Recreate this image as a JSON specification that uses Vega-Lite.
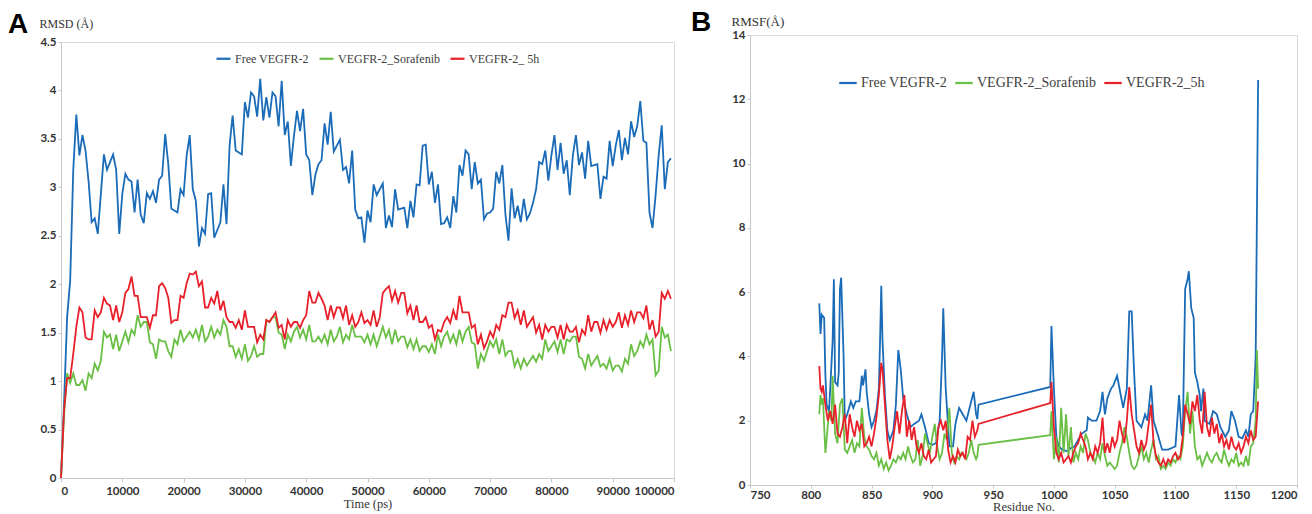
{
"$schema":"https://vega.github.io/schema/vega-lite/v6.json",
"padding":{"left":7,"top":8,"right":5,"bottom":0},
"background":"white",
"config":{
 "view":{"stroke":"#d9d9d9"},
 "axis":{"labelFont":"Lato","labelFontWeight":"bold","labelFontSize":11.5,"labelColor":"#333333","domainColor":"#c8c8c8","tickColor":"#c8c8c8","tickSize":4,"grid":false,"titleFont":"Liberation Serif, Times New Roman, serif","titleFontWeight":"normal","titleColor":"#333333","labelPadding":3,"titlePadding":1},
 "legend":{"symbolType":"stroke","symbolStrokeWidth":2.2,"labelFont":"Liberation Serif, Times New Roman, serif","labelColor":"#404040","direction":"horizontal","orient":"none"},
 "title":{"font":"Liberation Sans","fontWeight":"bold","fontSize":28,"color":"#000000","anchor":"start","frame":"group"}
},
"datasets":{
"A":[
{"t":0,"F":0,"S":0,"H":0},{"t":500,"F":0.78,"S":0.65,"H":0.7},{"t":1000,"F":1.66,"S":1.08,"H":1.03},{"t":1500,"F":2.04,"S":0.98,"H":1.03},{"t":2000,"F":3.18,"S":1.08,"H":1.28},{"t":2500,"F":3.75,"S":0.96,"H":1.56},{"t":3000,"F":3.33,"S":0.96,"H":1.76},{"t":3500,"F":3.54,"S":1.01,"H":1.71},{"t":4000,"F":3.38,"S":0.9,"H":1.45},{"t":4500,"F":3.06,"S":1.08,"H":1.43},
{"t":5000,"F":2.64,"S":1.03,"H":1.43},{"t":5500,"F":2.68,"S":1.18,"H":1.73},{"t":6000,"F":2.52,"S":1.11,"H":1.66},{"t":6500,"F":2.93,"S":1.21,"H":1.71},{"t":7000,"F":3.34,"S":1.51,"H":1.86},{"t":7500,"F":3.18,"S":1.45,"H":1.8},{"t":8000,"F":3.26,"S":1.48,"H":1.78},{"t":8500,"F":3.34,"S":1.33,"H":1.63},{"t":9000,"F":3.18,"S":1.48,"H":1.78},{"t":9500,"F":2.52,"S":1.31,"H":1.61},
{"t":10000,"F":2.93,"S":1.41,"H":1.71},{"t":10500,"F":3.14,"S":1.51,"H":1.91},{"t":11000,"F":3.08,"S":1.4,"H":1.95},{"t":11500,"F":3.06,"S":1.53,"H":2.08},{"t":12000,"F":2.74,"S":1.48,"H":1.88},{"t":12500,"F":3.08,"S":1.68,"H":1.88},{"t":13000,"F":2.72,"S":1.56,"H":1.66},{"t":13500,"F":2.63,"S":1.61,"H":1.66},{"t":14000,"F":2.94,"S":1.61,"H":1.66},{"t":14500,"F":2.88,"S":1.4,"H":1.55},
{"t":15000,"F":2.96,"S":1.38,"H":1.68},{"t":15500,"F":2.84,"S":1.23,"H":1.68},{"t":16000,"F":3.08,"S":1.43,"H":1.98},{"t":16500,"F":3.12,"S":1.41,"H":2.01},{"t":17000,"F":3.55,"S":1.41,"H":1.96},{"t":17500,"F":3.24,"S":1.31,"H":1.86},{"t":18000,"F":2.78,"S":1.25,"H":1.6},{"t":18500,"F":2.76,"S":1.43,"H":1.63},{"t":19000,"F":2.74,"S":1.38,"H":1.63},{"t":19500,"F":2.98,"S":1.53,"H":1.88},
{"t":20000,"F":2.92,"S":1.41,"H":1.86},{"t":20500,"F":3.33,"S":1.46,"H":2.01},{"t":21000,"F":3.54,"S":1.51,"H":2.11},{"t":21500,"F":2.98,"S":1.45,"H":2.1},{"t":22000,"F":2.86,"S":1.53,"H":2.13},{"t":22500,"F":2.39,"S":1.43,"H":1.98},{"t":23000,"F":2.58,"S":1.58,"H":2.03},{"t":23500,"F":2.52,"S":1.41,"H":1.76},{"t":24000,"F":2.93,"S":1.46,"H":1.76},{"t":24500,"F":2.94,"S":1.56,"H":1.86},
{"t":25000,"F":2.48,"S":1.45,"H":1.8},{"t":25500,"F":2.56,"S":1.53,"H":1.93},{"t":26000,"F":2.64,"S":1.48,"H":1.73},{"t":26500,"F":3.03,"S":1.63,"H":1.83},{"t":27000,"F":2.62,"S":1.56,"H":1.66},{"t":27500,"F":3.43,"S":1.36,"H":1.61},{"t":28000,"F":3.74,"S":1.36,"H":1.61},{"t":28500,"F":3.38,"S":1.25,"H":1.55},{"t":29000,"F":3.36,"S":1.33,"H":1.63},{"t":29500,"F":3.34,"S":1.23,"H":1.53},
{"t":30000,"F":3.88,"S":1.38,"H":1.73},{"t":30500,"F":3.72,"S":1.21,"H":1.56},{"t":31000,"F":3.98,"S":1.26,"H":1.56},{"t":31500,"F":3.94,"S":1.36,"H":1.56},{"t":32000,"F":3.73,"S":1.25,"H":1.4},{"t":32500,"F":4.12,"S":1.28,"H":1.48},{"t":33000,"F":3.69,"S":1.28,"H":1.43},{"t":33500,"F":3.93,"S":1.63,"H":1.63},{"t":34000,"F":3.72,"S":1.61,"H":1.61},{"t":34500,"F":3.98,"S":1.66,"H":1.66},
{"t":35000,"F":3.94,"S":1.66,"H":1.71},{"t":35500,"F":3.63,"S":1.5,"H":1.55},{"t":36000,"F":4.1,"S":1.48,"H":1.58},{"t":36500,"F":3.54,"S":1.33,"H":1.43},{"t":37000,"F":3.68,"S":1.48,"H":1.63},{"t":37500,"F":3.22,"S":1.41,"H":1.56},{"t":38000,"F":3.53,"S":1.51,"H":1.61},{"t":38500,"F":3.79,"S":1.56,"H":1.61},{"t":39000,"F":3.58,"S":1.45,"H":1.55},{"t":39500,"F":3.81,"S":1.53,"H":1.63},
{"t":40000,"F":3.34,"S":1.43,"H":1.68},{"t":40500,"F":3.28,"S":1.58,"H":1.93},{"t":41000,"F":2.92,"S":1.41,"H":1.81},{"t":41500,"F":3.13,"S":1.41,"H":1.81},{"t":42000,"F":3.24,"S":1.46,"H":1.91},{"t":42500,"F":3.28,"S":1.4,"H":1.85},{"t":43000,"F":3.66,"S":1.48,"H":1.78},{"t":43500,"F":3.44,"S":1.38,"H":1.63},{"t":44000,"F":3.78,"S":1.53,"H":1.78},{"t":44500,"F":3.37,"S":1.41,"H":1.66},
{"t":45000,"F":3.43,"S":1.46,"H":1.76},{"t":45500,"F":3.49,"S":1.56,"H":1.76},{"t":46000,"F":3.18,"S":1.4,"H":1.65},{"t":46500,"F":3.21,"S":1.48,"H":1.78},{"t":47000,"F":3.04,"S":1.43,"H":1.58},{"t":47500,"F":3.38,"S":1.58,"H":1.68},{"t":48000,"F":2.77,"S":1.46,"H":1.56},{"t":48500,"F":2.68,"S":1.46,"H":1.61},{"t":49000,"F":2.69,"S":1.46,"H":1.71},{"t":49500,"F":2.43,"S":1.4,"H":1.6},
{"t":50000,"F":2.76,"S":1.48,"H":1.63},{"t":50500,"F":2.64,"S":1.38,"H":1.58},{"t":51000,"F":3.03,"S":1.48,"H":1.73},{"t":51500,"F":2.92,"S":1.36,"H":1.56},{"t":52000,"F":2.98,"S":1.46,"H":1.66},{"t":52500,"F":3.04,"S":1.56,"H":1.91},{"t":53000,"F":2.58,"S":1.45,"H":1.95},{"t":53500,"F":2.71,"S":1.53,"H":1.98},{"t":54000,"F":2.59,"S":1.38,"H":1.83},{"t":54500,"F":2.98,"S":1.53,"H":1.93},
{"t":55000,"F":2.77,"S":1.41,"H":1.81},{"t":55500,"F":2.78,"S":1.46,"H":1.91},{"t":56000,"F":2.79,"S":1.46,"H":1.91},{"t":56500,"F":2.58,"S":1.35,"H":1.7},{"t":57000,"F":2.86,"S":1.43,"H":1.78},{"t":57500,"F":2.69,"S":1.33,"H":1.63},{"t":58000,"F":3.03,"S":1.43,"H":1.78},{"t":58500,"F":3.02,"S":1.31,"H":1.61},{"t":59000,"F":3.43,"S":1.36,"H":1.61},{"t":59500,"F":3.44,"S":1.36,"H":1.66},
{"t":60000,"F":3.03,"S":1.3,"H":1.55},{"t":60500,"F":3.16,"S":1.38,"H":1.58},{"t":61000,"F":2.84,"S":1.28,"H":1.43},{"t":61500,"F":3.03,"S":1.48,"H":1.53},{"t":62000,"F":2.62,"S":1.36,"H":1.51},{"t":62500,"F":2.63,"S":1.46,"H":1.61},{"t":63000,"F":2.69,"S":1.51,"H":1.66},{"t":63500,"F":2.58,"S":1.4,"H":1.6},{"t":64000,"F":2.91,"S":1.48,"H":1.73},{"t":64500,"F":2.74,"S":1.38,"H":1.63},
{"t":65000,"F":3.23,"S":1.53,"H":1.88},{"t":65500,"F":3.12,"S":1.41,"H":1.71},{"t":66000,"F":3.38,"S":1.51,"H":1.71},{"t":66500,"F":3.34,"S":1.56,"H":1.71},{"t":67000,"F":2.98,"S":1.4,"H":1.55},{"t":67500,"F":3.26,"S":1.38,"H":1.58},{"t":68000,"F":3.04,"S":1.13,"H":1.38},{"t":68500,"F":3.08,"S":1.28,"H":1.48},{"t":69000,"F":2.67,"S":1.21,"H":1.34},{"t":69500,"F":2.73,"S":1.31,"H":1.41},
{"t":70000,"F":2.74,"S":1.41,"H":1.51},{"t":70500,"F":2.78,"S":1.35,"H":1.45},{"t":71000,"F":3.16,"S":1.43,"H":1.58},{"t":71500,"F":3.04,"S":1.28,"H":1.53},{"t":72000,"F":3.23,"S":1.43,"H":1.68},{"t":72500,"F":2.72,"S":1.26,"H":1.66},{"t":73000,"F":2.45,"S":1.31,"H":1.81},{"t":73500,"F":2.99,"S":1.31,"H":1.81},{"t":74000,"F":2.68,"S":1.15,"H":1.65},{"t":74500,"F":2.81,"S":1.23,"H":1.73},
{"t":75000,"F":2.64,"S":1.13,"H":1.58},{"t":75500,"F":2.88,"S":1.23,"H":1.73},{"t":76000,"F":2.67,"S":1.16,"H":1.56},{"t":76500,"F":2.73,"S":1.21,"H":1.61},{"t":77000,"F":2.84,"S":1.26,"H":1.66},{"t":77500,"F":2.98,"S":1.2,"H":1.5},{"t":78000,"F":3.26,"S":1.28,"H":1.58},{"t":78500,"F":3.24,"S":1.23,"H":1.43},{"t":79000,"F":3.38,"S":1.43,"H":1.58},{"t":79500,"F":3.07,"S":1.31,"H":1.51},
{"t":80000,"F":3.33,"S":1.36,"H":1.56},{"t":80500,"F":3.54,"S":1.41,"H":1.56},{"t":81000,"F":3.18,"S":1.3,"H":1.45},{"t":81500,"F":3.46,"S":1.43,"H":1.58},{"t":82000,"F":3.14,"S":1.28,"H":1.43},{"t":82500,"F":3.28,"S":1.43,"H":1.58},{"t":83000,"F":2.92,"S":1.41,"H":1.51},{"t":83500,"F":3.33,"S":1.46,"H":1.51},{"t":84000,"F":3.54,"S":1.46,"H":1.56},{"t":84500,"F":3.23,"S":1.25,"H":1.4},
{"t":85000,"F":3.36,"S":1.23,"H":1.53},{"t":85500,"F":3.09,"S":1.13,"H":1.48},{"t":86000,"F":3.48,"S":1.28,"H":1.68},{"t":86500,"F":3.22,"S":1.16,"H":1.51},{"t":87000,"F":3.23,"S":1.21,"H":1.61},{"t":87500,"F":3.24,"S":1.26,"H":1.61},{"t":88000,"F":2.88,"S":1.15,"H":1.5},{"t":88500,"F":3.11,"S":1.18,"H":1.63},{"t":89000,"F":3.09,"S":1.13,"H":1.53},{"t":89500,"F":3.48,"S":1.23,"H":1.63},
{"t":90000,"F":3.22,"S":1.11,"H":1.56},{"t":90500,"F":3.43,"S":1.16,"H":1.61},{"t":91000,"F":3.59,"S":1.16,"H":1.71},{"t":91500,"F":3.28,"S":1.1,"H":1.55},{"t":92000,"F":3.51,"S":1.23,"H":1.68},{"t":92500,"F":3.34,"S":1.18,"H":1.58},{"t":93000,"F":3.68,"S":1.38,"H":1.73},{"t":93500,"F":3.52,"S":1.26,"H":1.61},{"t":94000,"F":3.63,"S":1.31,"H":1.71},{"t":94500,"F":3.89,"S":1.41,"H":1.71},
{"t":95000,"F":3.48,"S":1.35,"H":1.65},{"t":95500,"F":3.46,"S":1.48,"H":1.78},{"t":96000,"F":2.74,"S":1.38,"H":1.53},{"t":96500,"F":2.58,"S":1.43,"H":1.63},{"t":97000,"F":2.92,"S":1.06,"H":1.46},{"t":97500,"F":3.33,"S":1.11,"H":1.51},{"t":98000,"F":3.64,"S":1.56,"H":1.91},{"t":98500,"F":2.98,"S":1.45,"H":1.85},{"t":99000,"F":3.26,"S":1.48,"H":1.93},{"t":99500,"F":3.3,"S":1.31,"H":1.85}
],
"bF":[
{"r":807,"v":5.65},{"r":808,"v":4.7},{"r":809,"v":5.3},{"r":811,"v":5.2},{"r":812,"v":3.45},{"r":813,"v":2.5},{"r":815,"v":2.3},{"r":816,"v":3.0},{"r":818,"v":4.5},{"r":819,"v":6.4},{"r":820,"v":3.2},{"r":822,"v":3.1},{"r":823,"v":3.5},{"r":824,"v":6.1},{"r":825,"v":6.45},{"r":827,"v":4.0},{"r":828,"v":2.0},{"r":830,"v":2.2},{"r":833,"v":2.6},{"r":835,"v":2.4},{"r":837,"v":2.6},{"r":840,"v":2.6},{"r":842,"v":3.4},{"r":843,"v":3.1},{"r":845,"v":3.6},{"r":846,"v":2.9},{"r":848,"v":2.2},{"r":850,"v":1.8},{"r":852,"v":2.0},{"r":854,"v":2.3},{"r":856,"v":3.0},{"r":857,"v":4.5},{"r":858,"v":6.2},{"r":859,"v":4.5},{"r":861,"v":2.8},{"r":863,"v":1.7},{"r":865,"v":1.4},{"r":868,"v":1.7},{"r":870,"v":2.5},{"r":872,"v":4.2},{"r":874,"v":3.6},{"r":876,"v":2.7},{"r":879,"v":2.2},{"r":882,"v":1.8},{"r":885,"v":1.9},{"r":889,"v":2.0},{"r":891,"v":2.2},{"r":894,"v":1.8},{"r":897,"v":1.3},{"r":900,"v":1.25},{"r":903,"v":1.3},{"r":906,"v":2.0},{"r":908,"v":4.0},{"r":909,"v":5.5},{"r":911,"v":3.0},{"r":914,"v":1.2},{"r":917,"v":1.2},{"r":919,"v":1.9},{"r":922,"v":2.4},{"r":925,"v":2.2},{"r":928,"v":2.0},{"r":930,"v":2.3},{"r":934,"v":2.9},{"r":936,"v":2.2},{"r":937,"v":2.05},{"r":938,"v":2.5},{"r":997,"v":3.05},{"r":998,"v":4.95},{"r":1000,"v":3.0},{"r":1002,"v":1.5},{"r":1004,"v":1.2},{"r":1007,"v":1.1},{"r":1011,"v":1.05},{"r":1014,"v":1.15},{"r":1017,"v":1.2},{"r":1020,"v":1.4},{"r":1023,"v":1.6},{"r":1027,"v":1.7},{"r":1028,"v":2.1},{"r":1031,"v":2.0},{"r":1035,"v":2.0},{"r":1038,"v":2.3},{"r":1040,"v":2.9},{"r":1042,"v":2.2},{"r":1044,"v":2.7},{"r":1047,"v":3.0},{"r":1049,"v":3.1},{"r":1052,"v":3.4},{"r":1055,"v":2.8},{"r":1057,"v":2.4},{"r":1060,"v":3.0},{"r":1062,"v":5.4},{"r":1064,"v":5.4},{"r":1066,"v":3.5},{"r":1068,"v":2.0},{"r":1072,"v":1.8},{"r":1075,"v":2.2},{"r":1077,"v":2.0},{"r":1080,"v":3.1},{"r":1082,"v":2.0},{"r":1086,"v":1.5},{"r":1089,"v":1.1},{"r":1094,"v":1.1},{"r":1097,"v":1.15},{"r":1100,"v":1.2},{"r":1103,"v":2.8},{"r":1105,"v":1.6},{"r":1106,"v":1.5},{"r":1108,"v":6.1},{"r":1110,"v":6.4},{"r":1111,"v":6.65},{"r":1113,"v":5.5},{"r":1115,"v":5.2},{"r":1116,"v":3.5},{"r":1118,"v":3.2},{"r":1120,"v":2.8},{"r":1121,"v":2.3},{"r":1123,"v":3.0},{"r":1124,"v":2.0},{"r":1128,"v":1.9},{"r":1131,"v":2.3},{"r":1134,"v":2.2},{"r":1137,"v":1.8},{"r":1141,"v":1.5},{"r":1144,"v":1.7},{"r":1146,"v":2.3},{"r":1149,"v":2.0},{"r":1152,"v":1.5},{"r":1155,"v":1.45},{"r":1158,"v":1.7},{"r":1160,"v":1.5},{"r":1162,"v":2.2},{"r":1164,"v":2.3},{"r":1166,"v":4.0},{"r":1168,"v":12.6}
],
"bS":[
{"r":807,"v":2.2},{"r":808,"v":2.8},{"r":809,"v":2.5},{"r":810,"v":2.7},{"r":812,"v":1.0},{"r":813,"v":1.4},{"r":815,"v":2.3},{"r":817,"v":2.0},{"r":818,"v":3.4},{"r":820,"v":1.6},{"r":822,"v":1.3},{"r":824,"v":2.5},{"r":826,"v":2.7},{"r":828,"v":1.1},{"r":830,"v":1.0},{"r":832,"v":1.2},{"r":834,"v":1.4},{"r":836,"v":1.0},{"r":838,"v":1.3},{"r":840,"v":1.2},{"r":842,"v":2.4},{"r":844,"v":1.5},{"r":846,"v":1.2},{"r":848,"v":1.1},{"r":850,"v":0.9},{"r":852,"v":0.8},{"r":854,"v":1.0},{"r":856,"v":0.6},{"r":858,"v":0.8},{"r":860,"v":0.5},{"r":862,"v":0.7},{"r":864,"v":0.45},{"r":866,"v":0.6},{"r":868,"v":0.8},{"r":870,"v":0.7},{"r":872,"v":0.9},{"r":874,"v":0.8},{"r":876,"v":1.0},{"r":878,"v":0.8},{"r":880,"v":1.2},{"r":882,"v":0.9},{"r":884,"v":0.7},{"r":886,"v":0.8},{"r":888,"v":1.4},{"r":890,"v":0.6},{"r":892,"v":0.9},{"r":894,"v":1.6},{"r":896,"v":1.3},{"r":898,"v":1.0},{"r":900,"v":1.5},{"r":902,"v":1.9},{"r":904,"v":1.2},{"r":906,"v":0.8},{"r":908,"v":1.0},{"r":910,"v":1.6},{"r":912,"v":1.4},{"r":914,"v":2.4},{"r":916,"v":1.0},{"r":918,"v":0.7},{"r":920,"v":0.9},{"r":922,"v":0.8},{"r":924,"v":1.0},{"r":926,"v":0.9},{"r":928,"v":0.8},{"r":930,"v":1.0},{"r":932,"v":1.4},{"r":934,"v":1.0},{"r":936,"v":0.8},{"r":937,"v":0.9},{"r":938,"v":1.25},{"r":997,"v":1.55},{"r":998,"v":2.3},{"r":1000,"v":0.8},{"r":1002,"v":1.5},{"r":1004,"v":0.7},{"r":1006,"v":2.4},{"r":1008,"v":1.0},{"r":1010,"v":2.2},{"r":1012,"v":0.9},{"r":1014,"v":1.8},{"r":1016,"v":0.7},{"r":1018,"v":1.0},{"r":1020,"v":0.8},{"r":1022,"v":1.2},{"r":1024,"v":1.0},{"r":1026,"v":1.6},{"r":1028,"v":1.4},{"r":1030,"v":1.0},{"r":1032,"v":0.9},{"r":1034,"v":0.7},{"r":1036,"v":1.0},{"r":1038,"v":0.8},{"r":1040,"v":1.3},{"r":1042,"v":0.9},{"r":1044,"v":0.6},{"r":1046,"v":0.7},{"r":1048,"v":0.6},{"r":1050,"v":0.5},{"r":1052,"v":0.6},{"r":1054,"v":1.0},{"r":1056,"v":1.3},{"r":1058,"v":1.8},{"r":1060,"v":1.5},{"r":1062,"v":1.0},{"r":1064,"v":0.6},{"r":1066,"v":0.5},{"r":1068,"v":0.6},{"r":1070,"v":0.9},{"r":1072,"v":1.2},{"r":1074,"v":0.8},{"r":1076,"v":1.0},{"r":1078,"v":0.7},{"r":1080,"v":1.1},{"r":1082,"v":1.4},{"r":1084,"v":0.8},{"r":1086,"v":0.9},{"r":1088,"v":0.5},{"r":1090,"v":0.6},{"r":1092,"v":0.5},{"r":1094,"v":0.7},{"r":1096,"v":0.6},{"r":1098,"v":0.8},{"r":1100,"v":0.7},{"r":1102,"v":0.9},{"r":1104,"v":0.8},{"r":1106,"v":1.2},{"r":1108,"v":2.3},{"r":1110,"v":2.9},{"r":1112,"v":1.6},{"r":1114,"v":2.3},{"r":1116,"v":1.2},{"r":1118,"v":0.8},{"r":1120,"v":0.9},{"r":1122,"v":0.6},{"r":1124,"v":0.8},{"r":1126,"v":1.0},{"r":1128,"v":0.8},{"r":1130,"v":0.7},{"r":1132,"v":0.9},{"r":1134,"v":1.0},{"r":1136,"v":0.8},{"r":1138,"v":0.7},{"r":1140,"v":1.1},{"r":1142,"v":0.8},{"r":1144,"v":0.6},{"r":1146,"v":0.8},{"r":1148,"v":0.7},{"r":1150,"v":1.0},{"r":1152,"v":0.6},{"r":1154,"v":0.7},{"r":1156,"v":0.6},{"r":1158,"v":0.9},{"r":1160,"v":0.6},{"r":1162,"v":1.2},{"r":1164,"v":1.3},{"r":1166,"v":2.0},{"r":1167,"v":4.2},{"r":1168,"v":3.0}
],
"bH":[
{"r":807,"v":3.7},{"r":808,"v":3.0},{"r":809,"v":2.9},{"r":810,"v":3.1},{"r":812,"v":2.5},{"r":814,"v":2.0},{"r":816,"v":2.3},{"r":818,"v":1.9},{"r":820,"v":2.5},{"r":822,"v":1.6},{"r":824,"v":1.5},{"r":826,"v":1.8},{"r":828,"v":2.2},{"r":830,"v":1.3},{"r":832,"v":2.2},{"r":834,"v":1.8},{"r":836,"v":1.5},{"r":838,"v":2.0},{"r":840,"v":1.7},{"r":842,"v":1.9},{"r":844,"v":1.2},{"r":846,"v":1.3},{"r":848,"v":1.5},{"r":850,"v":1.2},{"r":852,"v":1.6},{"r":854,"v":2.1},{"r":856,"v":2.8},{"r":858,"v":3.8},{"r":859,"v":3.6},{"r":861,"v":2.5},{"r":863,"v":1.4},{"r":865,"v":0.8},{"r":867,"v":1.2},{"r":869,"v":1.8},{"r":871,"v":2.3},{"r":873,"v":1.6},{"r":875,"v":2.3},{"r":877,"v":2.8},{"r":879,"v":1.5},{"r":881,"v":2.0},{"r":883,"v":1.4},{"r":885,"v":1.8},{"r":887,"v":1.2},{"r":889,"v":1.0},{"r":891,"v":1.3},{"r":893,"v":0.9},{"r":895,"v":0.8},{"r":897,"v":1.1},{"r":899,"v":0.7},{"r":901,"v":0.8},{"r":903,"v":0.9},{"r":905,"v":1.8},{"r":907,"v":2.0},{"r":909,"v":1.7},{"r":911,"v":2.0},{"r":913,"v":1.1},{"r":915,"v":0.7},{"r":917,"v":0.9},{"r":919,"v":0.7},{"r":921,"v":1.1},{"r":923,"v":0.9},{"r":925,"v":1.0},{"r":927,"v":0.8},{"r":929,"v":1.5},{"r":931,"v":1.4},{"r":933,"v":2.0},{"r":935,"v":1.5},{"r":937,"v":1.7},{"r":938,"v":1.9},{"r":997,"v":2.55},{"r":998,"v":3.2},{"r":1000,"v":1.8},{"r":1002,"v":1.0},{"r":1004,"v":0.8},{"r":1006,"v":1.0},{"r":1008,"v":0.7},{"r":1010,"v":0.8},{"r":1012,"v":0.9},{"r":1014,"v":0.7},{"r":1016,"v":1.0},{"r":1018,"v":1.2},{"r":1020,"v":1.3},{"r":1022,"v":1.6},{"r":1024,"v":1.4},{"r":1026,"v":1.2},{"r":1028,"v":0.8},{"r":1030,"v":1.0},{"r":1032,"v":0.8},{"r":1034,"v":1.2},{"r":1036,"v":1.0},{"r":1038,"v":1.3},{"r":1040,"v":2.1},{"r":1042,"v":1.0},{"r":1044,"v":1.3},{"r":1046,"v":1.0},{"r":1048,"v":1.5},{"r":1050,"v":1.2},{"r":1052,"v":1.4},{"r":1054,"v":2.0},{"r":1056,"v":1.6},{"r":1058,"v":1.3},{"r":1060,"v":2.0},{"r":1062,"v":3.05},{"r":1064,"v":2.2},{"r":1066,"v":1.7},{"r":1068,"v":1.2},{"r":1070,"v":1.0},{"r":1072,"v":1.4},{"r":1074,"v":1.1},{"r":1076,"v":1.3},{"r":1078,"v":1.9},{"r":1080,"v":2.5},{"r":1082,"v":1.3},{"r":1084,"v":0.9},{"r":1086,"v":0.7},{"r":1088,"v":0.6},{"r":1090,"v":0.8},{"r":1092,"v":0.6},{"r":1094,"v":0.8},{"r":1096,"v":0.7},{"r":1098,"v":0.9},{"r":1100,"v":1.0},{"r":1102,"v":0.8},{"r":1104,"v":0.9},{"r":1106,"v":1.5},{"r":1108,"v":2.5},{"r":1110,"v":2.2},{"r":1112,"v":1.9},{"r":1114,"v":2.6},{"r":1116,"v":2.3},{"r":1118,"v":2.8},{"r":1120,"v":2.0},{"r":1122,"v":1.6},{"r":1124,"v":2.9},{"r":1126,"v":1.8},{"r":1128,"v":1.5},{"r":1130,"v":2.1},{"r":1132,"v":1.6},{"r":1134,"v":1.9},{"r":1136,"v":1.3},{"r":1138,"v":1.6},{"r":1140,"v":1.2},{"r":1142,"v":1.4},{"r":1144,"v":1.1},{"r":1146,"v":1.5},{"r":1148,"v":1.2},{"r":1150,"v":1.1},{"r":1152,"v":1.3},{"r":1154,"v":1.0},{"r":1156,"v":1.2},{"r":1158,"v":1.5},{"r":1160,"v":1.3},{"r":1162,"v":1.7},{"r":1164,"v":1.4},{"r":1166,"v":1.5},{"r":1168,"v":2.6}
]
},
"hconcat":[
{
 "width":613,"height":436,
 "title":{"text":"A","dx":-53,"dy":22,"offset":0},
 "data":{"name":"A"},
 "encoding":{"x":{"field":"t","type":"quantitative","scale":{"domain":[0,100000],"nice":false},"axis":{"values":[0,10000,20000,30000,40000,50000,60000,70000,80000,90000,100000],"format":"d","title":"Time (ps)","titleFontSize":12.5}}},
 "layer":[
  {"mark":{"type":"line","strokeWidth":1.8},
   "encoding":{
    "y":{"field":"F","type":"quantitative","scale":{"domain":[0,4.5],"nice":false},"axis":{"values":[0,0.5,1,1.5,2,2.5,3,3.5,4,4.5],"format":".1~f","title":"RMSD (Å)","titleAngle":0,"titleAlign":"left","titleBaseline":"middle","titleX":-22,"titleY":-19,"titleFontSize":12,"tickSize":3,"labelPadding":2}},
    "color":{"datum":"Free VEGFR-2","type":"nominal","scale":{"domain":["Free VEGFR-2","VEGFR-2_Sorafenib","VEGFR-2_ 5h"],"range":["#1a6bb8","#6abf45","#e8202a"]},"legend":{"title":null,"legendX":154,"legendY":8,"symbolSize":196,"labelFontSize":12,"labelOffset":3,"columnPadding":6}}}},
  {"mark":{"type":"line","strokeWidth":1.8},
   "encoding":{
    "y":{"field":"S","type":"quantitative","scale":{"domain":[0,4.5],"nice":false},"axis":{"values":[0,0.5,1,1.5,2,2.5,3,3.5,4,4.5],"format":".1~f","title":"RMSD (Å)","titleAngle":0,"titleAlign":"left","titleBaseline":"middle","titleX":-22,"titleY":-19,"titleFontSize":12,"tickSize":3,"labelPadding":2}},
    "color":{"datum":"VEGFR-2_Sorafenib","type":"nominal"}}},
  {"mark":{"type":"line","strokeWidth":1.8},
   "encoding":{
    "y":{"field":"H","type":"quantitative","scale":{"domain":[0,4.5],"nice":false},"axis":{"values":[0,0.5,1,1.5,2,2.5,3,3.5,4,4.5],"format":".1~f","title":"RMSD (Å)","titleAngle":0,"titleAlign":"left","titleBaseline":"middle","titleX":-22,"titleY":-19,"titleFontSize":12,"tickSize":3,"labelPadding":2}},
    "color":{"datum":"VEGFR-2_ 5h","type":"nominal"}}}
 ]
},
{
 "width":547,"height":450,
 "title":{"text":"B","dx":-59,"dy":22,"offset":0},
 "encoding":{
  "x":{"field":"r","type":"quantitative","scale":{"domain":[750,1200],"nice":false},"axis":{"values":[750,800,850,900,950,1000,1050,1100,1150,1200],"format":"d","title":"Residue No.","titleFontSize":12.5,"titlePadding":0,"tickSize":3,"labelPadding":1}},
  "y":{"field":"v","type":"quantitative","scale":{"domain":[0,14],"nice":false},"axis":{"values":[0,2,4,6,8,10,12,14],"title":"RMSF(Å)","titleAngle":0,"titleAlign":"left","titleBaseline":"middle","titleX":-19,"titleY":-14,"titleFontSize":13,"tickSize":3,"labelPadding":2}}
 },
 "layer":[
  {"data":{"name":"bF"},"mark":{"type":"line","strokeWidth":1.8},
   "encoding":{"color":{"datum":"Free VEGFR-2","type":"nominal","scale":{"domain":["Free VEGFR-2","VEGFR-2_Sorafenib","VEGFR-2_5h"],"range":["#1a6bb8","#6abf45","#e8202a"]},"legend":{"title":null,"legendX":88,"legendY":38,"symbolSize":306,"labelFontSize":14,"labelOffset":3,"columnPadding":3}}}},
  {"data":{"name":"bS"},"mark":{"type":"line","strokeWidth":1.8},
   "encoding":{"color":{"datum":"VEGFR-2_Sorafenib","type":"nominal"}}},
  {"data":{"name":"bH"},"mark":{"type":"line","strokeWidth":1.8},
   "encoding":{"color":{"datum":"VEGFR-2_5h","type":"nominal"}}}
 ]
}
],
"spacing":76,
"bounds":"flush",
"center":true,
"resolve":{"scale":{"color":"independent"},"legend":{"color":"independent"}}
}
